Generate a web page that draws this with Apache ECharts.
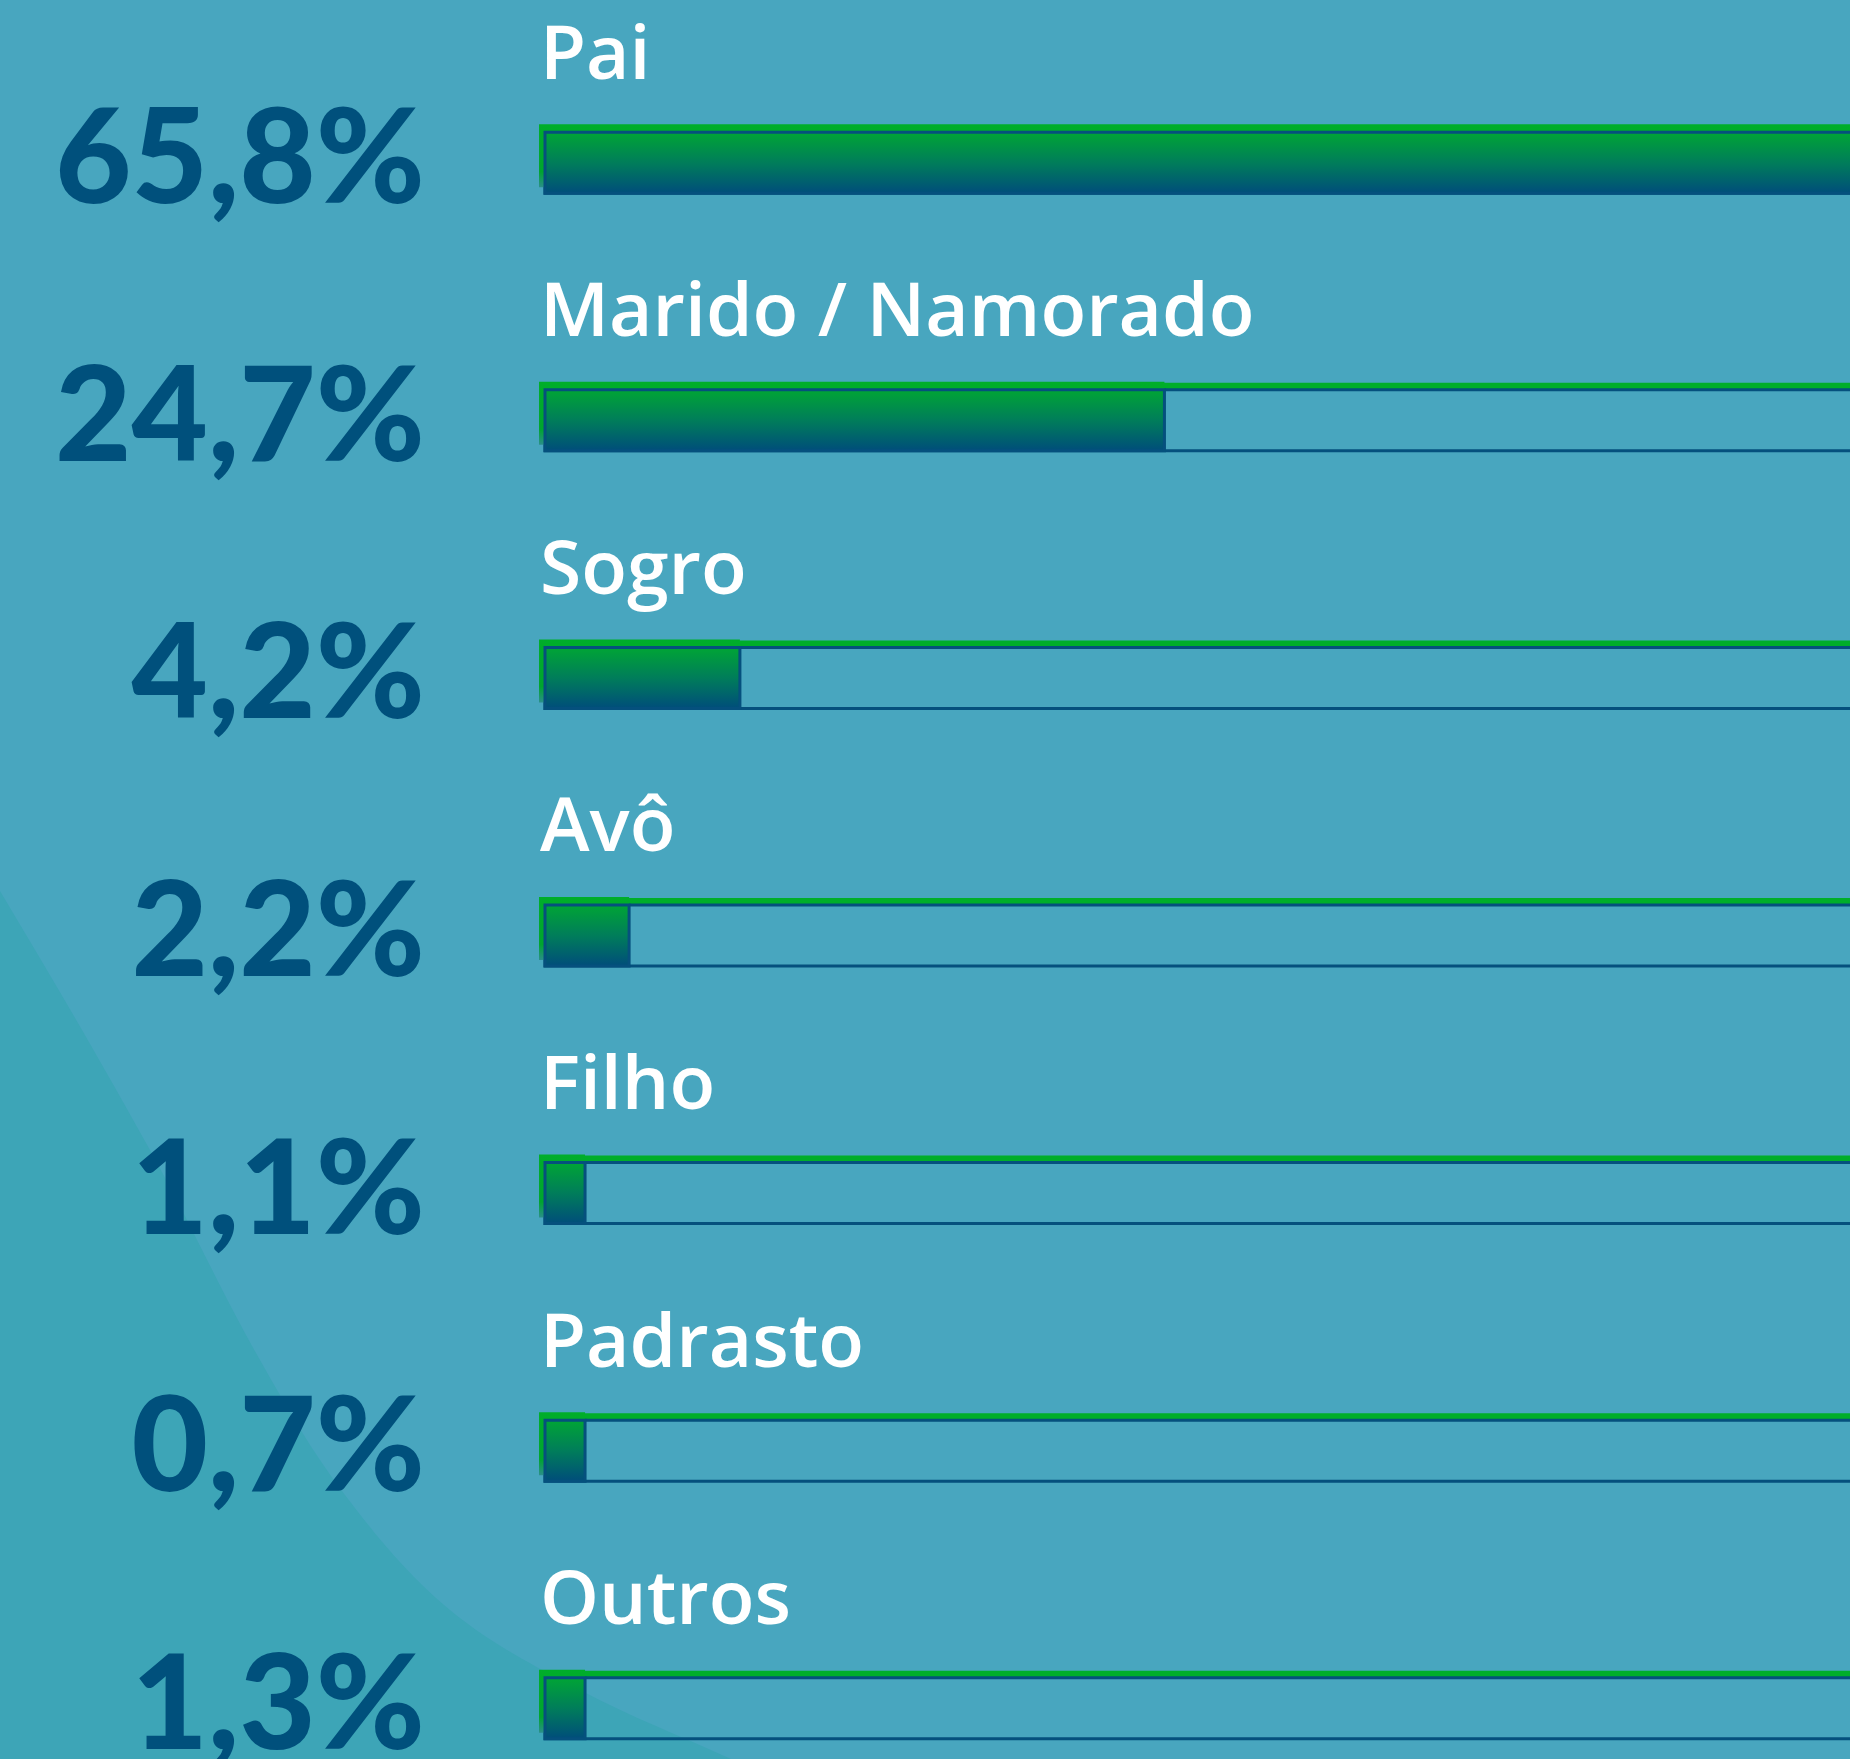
<!DOCTYPE html>
<html>
<head>
<meta charset="utf-8">
<script src="https://cdn.jsdelivr.net/npm/echarts@6/dist/echarts.min.js"></script>
<style>
  html, body { margin: 0; padding: 0; background: #48a6bf; }
  #chart { width: 1850px; height: 1759px; }
</style>
</head>
<body>
<div id="chart"></div>
<script>
const categories = ['Pai', 'Marido / Namorado', 'Sogro', 'Avô', 'Filho', 'Padrasto', 'Outros']
// share shown in the big labels (%)
const shares = [65.8, 24.7, 4.2, 2.2, 1.1, 0.7, 1.3]
// bar lengths as drawn in the picture, in % of the visible track
const barFill = [100, 46.4, 14.6, 6.3, 3.0, 3.0, 3.0]
const trackMax = 100

const GREEN = '#00ae2a'
const DARK = '#05507d'

const formatShare = (v) => v.toFixed(1).replace('.', ',') + '%'

function renderBar(params, api) {
  const idx = params.dataIndex
  const start = api.coord([0, idx])
  const end = api.coord([api.value(0), idx])
  const trackEnd = api.coord([trackMax, idx])
  const h = 61
  const y = start[1] - h / 2 + 2
  return {
    type: 'group',
    children: [
      {
        type: 'text',
        x: start[0] - 5,
        y: y - 75,
        style: {
          text: categories[idx],
          fill: '#ffffff',
          fontFamily: 'Open Sans',
          fontWeight: 600,
          fontSize: 75,
          verticalAlign: 'middle',
          align: 'left',
        },
      },
      {
        type: 'rect',
        shape: { x: start[0], y: y - 7, width: trackEnd[0] - start[0], height: 7 },
        style: { fill: GREEN },
      },
      {
        type: 'rect',
        shape: { x: start[0], y: y, width: trackEnd[0] - start[0], height: h },
        style: { fill: 'none', stroke: DARK, lineWidth: 3 },
      },
      {
        type: 'rect',
        shape: { x: start[0] - 6, y: y - 8, width: end[0] - start[0] + 6, height: h + 2 },
        style: {
          fill: new echarts.graphic.LinearGradient(0, 0, 0, 1, [
            { offset: 0, color: GREEN },
            { offset: 0.75, color: '#00a52e' },
            { offset: 1, color: '#2a8f8a' },
          ]),
        },
      },
      {
        type: 'rect',
        shape: { x: start[0], y: y, width: end[0] - start[0], height: h },
        style: {
          fill: new echarts.graphic.LinearGradient(0, 0, 0, 1, [
            { offset: 0, color: '#00a733' },
            { offset: 0.5, color: '#007d5a' },
            { offset: 1, color: '#004b7c' },
          ]),
          stroke: DARK,
          lineWidth: 3,
        },
      },
    ],
  }
}

const chart = echarts.init(document.getElementById('chart'))
chart.setOption({
  backgroundColor: '#48a6bf',
  animation: false,
  graphic: [
    {
      // lighter wave in the lower left corner of the background
      type: 'polygon',
      z: -10,
      silent: true,
      shape: {
        points: [[-60, 800], [0, 891], [150, 1150], [260, 1360], [345, 1495], [450, 1610], [580, 1690], [731, 1759], [820, 1800], [-60, 1800]],
        smooth: 0.35,
      },
      style: { fill: '#3da5b7' },
    },
  ],
  grid: {
    left: 545,
    right: -30,
    top: 32,
    height: 1803,
    outerBoundsMode: 'none',
    containLabel: false,
  },
  xAxis: {
    type: 'value',
    min: 0,
    max: trackMax,
    show: false,
  },
  yAxis: {
    type: 'category',
    data: categories,
    inverse: true,
    axisLine: { show: false },
    axisTick: { show: false },
    splitLine: { show: false },
    axisLabel: {
      margin: 120,
      color: '#00507c',
      fontFamily: 'Lato',
      fontWeight: 900,
      fontSize: 132,
      formatter: (value, index) => formatShare(shares[index]),
    },
  },
  series: [
    {
      type: 'custom',
      renderItem: renderBar,
      encode: { x: 0, y: 1 },
      data: barFill.map((v, i) => [v, i]),
      clip: false,
    },
  ],
})
</script>
</body>
</html>
